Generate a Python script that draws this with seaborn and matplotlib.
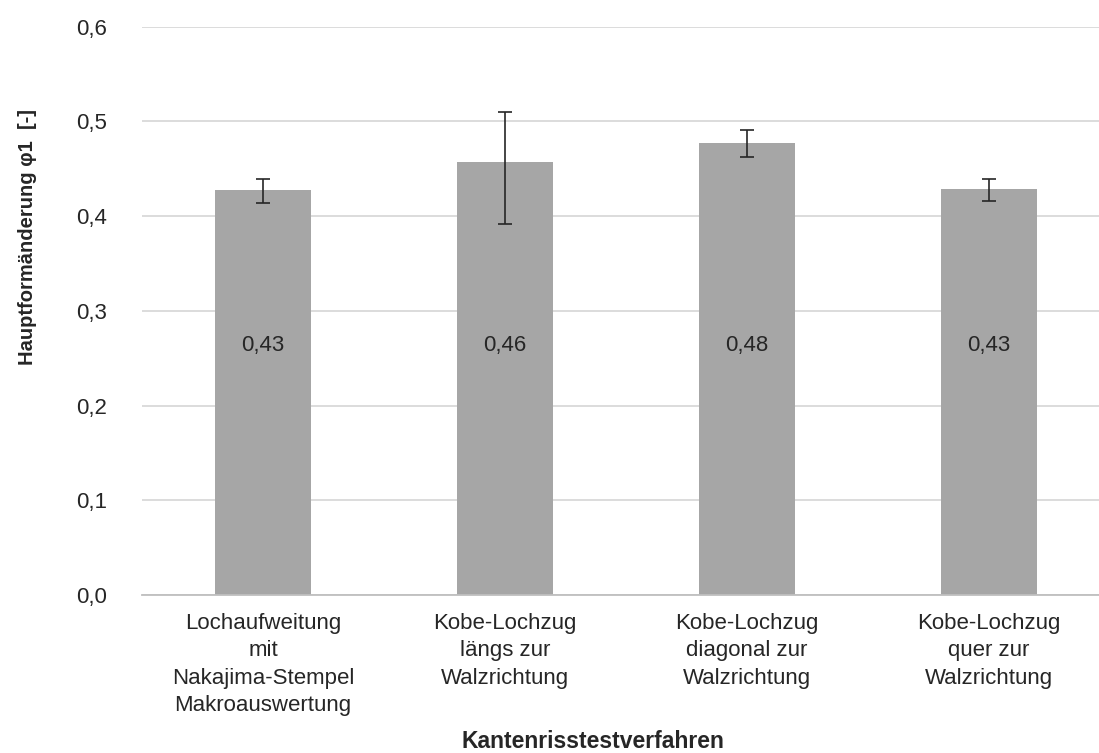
import matplotlib
matplotlib.use("Agg")
import matplotlib.pyplot as plt
import seaborn as sns
import numpy as np
import pandas as pd

categories = [
    "Lochaufweitung\nmit\nNakajima-Stempel\nMakroauswertung",
    "Kobe-Lochzug\nlängs zur\nWalzrichtung",
    "Kobe-Lochzug\ndiagonal zur\nWalzrichtung",
    "Kobe-Lochzug\nquer zur\nWalzrichtung",
]
values = [0.427, 0.457, 0.477, 0.428]
err_upper = [0.012, 0.053, 0.014, 0.011]
err_lower = [0.013, 0.065, 0.015, 0.012]
value_labels = ["0,43", "0,46", "0,48", "0,43"]
yticks = [0.0, 0.1, 0.2, 0.3, 0.4, 0.5, 0.6]
ytick_labels = ["0,0", "0,1", "0,2", "0,3", "0,4", "0,5", "0,6"]

sns.set_theme(style="white")
plt.rcParams["font.family"] = ["Liberation Sans", "DejaVu Sans"]

fig = plt.figure(figsize=(10.99, 7.53), dpi=100)
ax = fig.add_axes([0.1292, 0.2098, 0.8708, 0.755])

df = pd.DataFrame({"cat": categories, "val": values})
sns.barplot(data=df, x="cat", y="val", color="#a6a6a6", saturation=1,
            width=0.395, ax=ax, zorder=2)
for p in ax.patches:
    p.set_edgecolor("none")

xpos = np.arange(len(categories))
ax.errorbar(xpos, values, yerr=[err_lower, err_upper], fmt="none",
            ecolor="#262626", elinewidth=1.2, capsize=5, capthick=1.2, zorder=3)

for x, lab in zip(xpos, value_labels):
    ax.text(x, 0.263, lab, ha="center", va="center", fontsize=16, color="#262626", zorder=4)

ax.set_ylim(0, 0.6)
ax.set_xlim(-0.5, 3.455)
ax.set_yticks(yticks)
ax.set_yticklabels(ytick_labels)
ax.yaxis.grid(True, color="#d9d9d9", linewidth=1.3, zorder=0)
ax.set_axisbelow(True)
for s in ["top", "right", "left"]:
    ax.spines[s].set_visible(False)
ax.spines["bottom"].set_color("#bfbfbf")
ax.spines["bottom"].set_linewidth(1.3)
ax.tick_params(axis="y", length=0, pad=25, labelsize=16, labelcolor="#262626")
ax.tick_params(axis="x", length=0, pad=13, labelsize=16, labelcolor="#262626")
for t in ax.get_xticklabels():
    t.set_linespacing(1.4)

ax.set_xlabel("Kantenrisstestverfahren", fontsize=16.5, fontweight="bold",
              color="#262626")
ax.xaxis.set_label_coords(0.471, -0.258)
ax.xaxis.label.set_va("center")
ax.set_ylabel("Hauptformänderung φ1  [-]", fontsize=14.5, fontweight="bold",
              color="#262626")
ax.yaxis.set_label_coords(-0.1196, 0.63)
ax.yaxis.label.set_va("center")

fig.savefig("out.png", dpi=100)
